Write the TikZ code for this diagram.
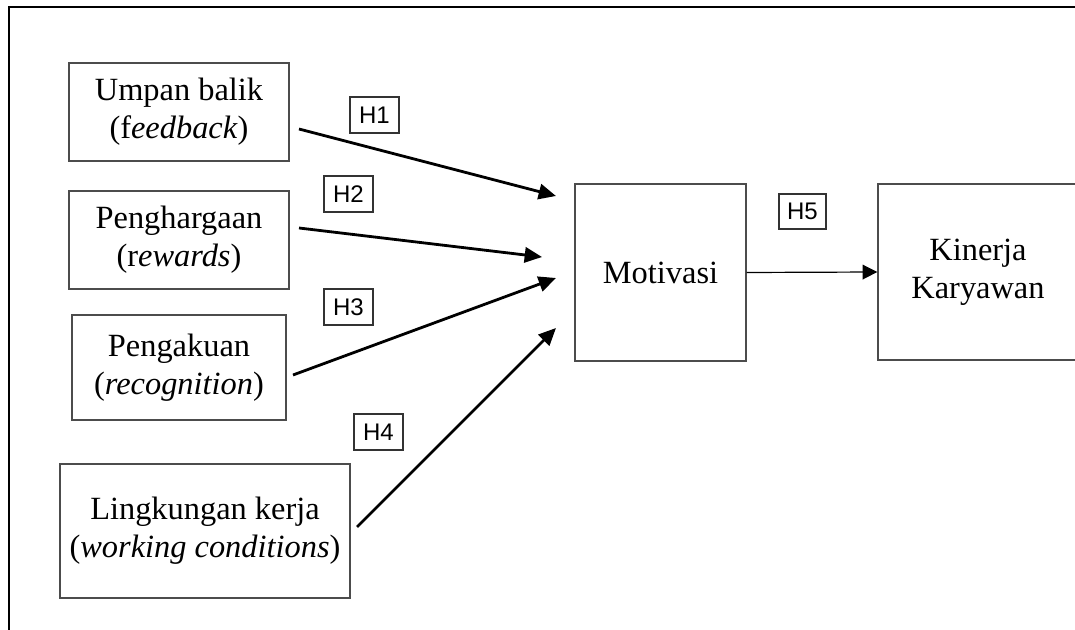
\documentclass[tikz,border=0pt]{standalone}
\usepackage{fontspec}
\setmainfont{Liberation Serif}
\newfontfamily\arialfont{Liberation Sans}
\usetikzlibrary{arrows.meta}
\begin{document}
\begin{tikzpicture}[x=0.75pt,y=-0.75pt,
  varbox/.style={draw=black!70, line width=1pt, align=center, inner sep=0pt,
    font=\fontsize{24.3}{28.5}\selectfont},
  hbox/.style={draw=black!80, line width=0.8pt, inner sep=0pt,
    minimum width=36.75pt, minimum height=27pt,
    font={\arialfont\fontsize{18}{20}\selectfont}},
  bigarrow/.style={line width=2.1pt, -{Triangle[length=13pt,width=11.5pt]}},
  smallarrow/.style={line width=0.9pt, -{Triangle[length=11pt,width=11pt]}},
  frameline/.style={line width=1.5pt}]
\useasboundingbox (0,0) rectangle (1075,630);
% outer frame (cropped)
\coordinate (fa) at (9,630);
\coordinate (fb) at (9,7);
\coordinate (fc) at (1080,7);
\draw[frameline] (fa) -- (fb) -- (fc);
% variable boxes
\node[varbox, minimum width=165pt, minimum height=73.5pt] (b1) at (179,112)
  {Umpan balik\\(f\textit{eedback})};
\node[varbox, minimum width=165pt, minimum height=73.5pt] (b2) at (179,240)
  {Penghargaan\\(r\textit{ewards})};
\node[varbox, minimum width=160.5pt, minimum height=78.75pt] (b3) at (179,367.5)
  {Pengakuan\\(\textit{recognition})};
\node[varbox, minimum width=217.5pt, minimum height=100.5pt] (b4) at (205,531)
  {Lingkungan kerja\\(\textit{working conditions})};
\node[varbox, minimum width=128.25pt, minimum height=132.75pt] (m) at (660.5,272.5)
  {Motivasi};
\node[varbox, minimum width=150pt, minimum height=132pt] (k) at (978,272)
  {Kinerja\\Karyawan};
% hypothesis labels
\node[hbox] (h1) at (374.5,115) {H1};
\node[hbox] (h2) at (348.5,194) {H2};
\node[hbox] (h3) at (348.5,307) {H3};
\node[hbox] (h4) at (378.5,432) {H4};
\node[hbox, minimum width=35.25pt, minimum height=26.25pt] (h5) at (802.5,211.5) {H5};
% connector end points
\coordinate (s1) at (299,129);
\coordinate (t1) at (556,196);
\coordinate (s2) at (299,228);
\coordinate (t2) at (542,257);
\coordinate (s3) at (293,375);
\coordinate (t3) at (556,278);
\coordinate (s4) at (357,527);
\coordinate (t4) at (556,328);
\draw[bigarrow] (s1) -- (t1);
\draw[bigarrow] (s2) -- (t2);
\draw[bigarrow] (s3) -- (t3);
\draw[bigarrow] (s4) -- (t4);
\draw[smallarrow] (m.east) -- (k.west);
\end{tikzpicture}
\end{document}
